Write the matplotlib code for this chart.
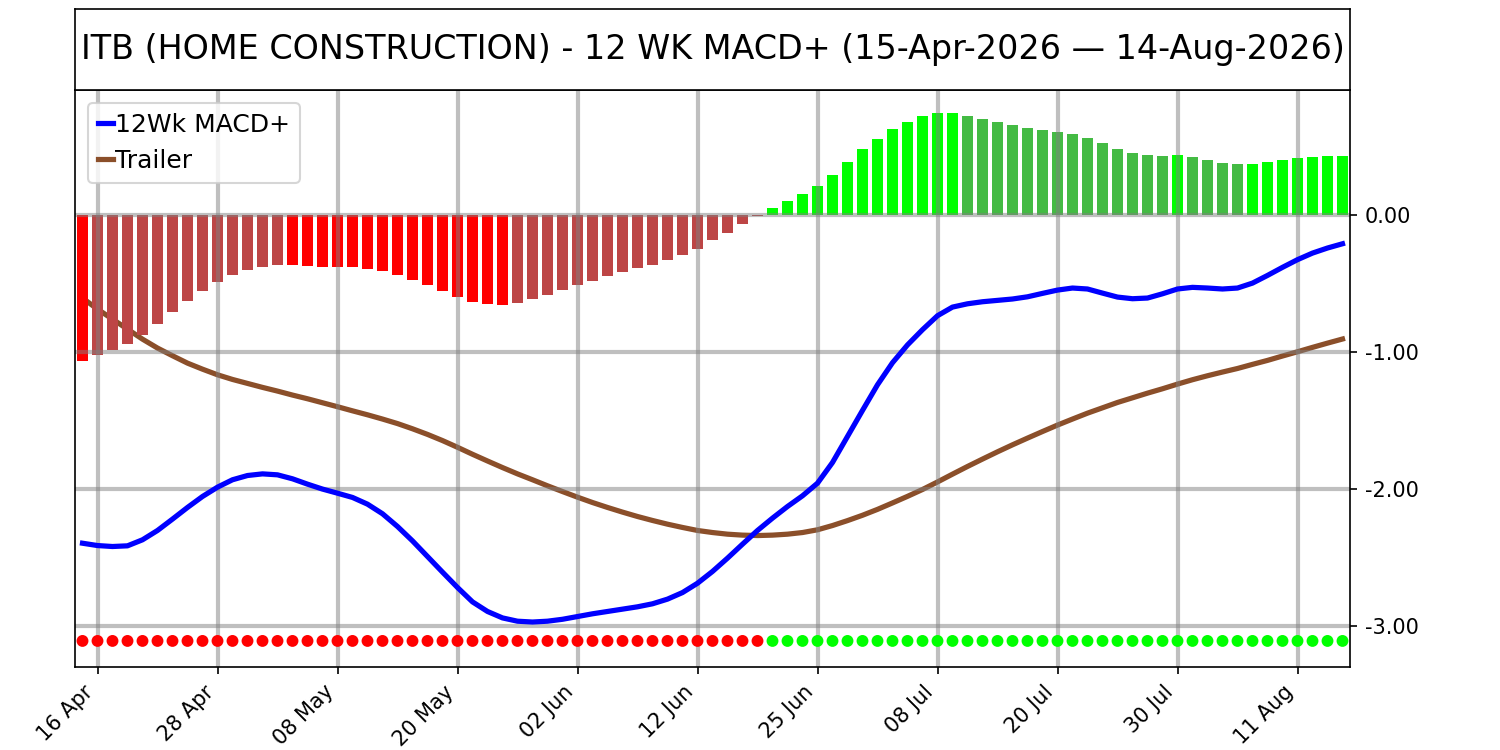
import numpy as np
import pandas as pd
import matplotlib
matplotlib.use('Agg')
import matplotlib.pyplot as plt

# Торговые дни (праздники США пропущены)
holidays = ['2026-05-25', '2026-06-19', '2026-07-03']
dates = pd.bdate_range('2026-04-15', '2026-08-14', freq='C', holidays=holidays)

# 12Wk MACD+
macd = [-2.397, -2.414, -2.421, -2.416, -2.372, -2.304, -2.221, -2.136, -2.056, -1.988,
        -1.934, -1.903, -1.891, -1.898, -1.927, -1.966, -2.002, -2.032, -2.063, -2.112,
        -2.182, -2.275, -2.380, -2.494, -2.608, -2.720, -2.825, -2.895, -2.942, -2.966,
        -2.972, -2.966, -2.952, -2.932, -2.912, -2.895, -2.878, -2.861, -2.839, -2.805,
        -2.757, -2.689, -2.603, -2.506, -2.404, -2.304, -2.214, -2.129, -2.051, -1.959,
        -1.808, -1.618, -1.428, -1.241, -1.080, -0.950, -0.839, -0.737, -0.674, -0.650,
        -0.635, -0.625, -0.615, -0.599, -0.574, -0.550, -0.535, -0.542, -0.572, -0.601,
        -0.613, -0.608, -0.577, -0.542, -0.530, -0.535, -0.542, -0.535, -0.499, -0.443,
        -0.384, -0.328, -0.280, -0.243, -0.212]

# Trailer
trailer = [-0.608, -0.689, -0.762, -0.835, -0.908, -0.973, -1.029, -1.083, -1.127, -1.168,
           -1.202, -1.231, -1.260, -1.287, -1.316, -1.343, -1.372, -1.401, -1.431, -1.460,
           -1.491, -1.524, -1.562, -1.603, -1.648, -1.697, -1.748, -1.797, -1.845, -1.891,
           -1.934, -1.978, -2.020, -2.061, -2.100, -2.136, -2.170, -2.202, -2.231, -2.258,
           -2.282, -2.304, -2.319, -2.331, -2.338, -2.341, -2.338, -2.331, -2.319, -2.299,
           -2.268, -2.232, -2.193, -2.150, -2.103, -2.055, -2.005, -1.950, -1.893, -1.837,
           -1.783, -1.730, -1.679, -1.630, -1.582, -1.535, -1.491, -1.448, -1.409, -1.370,
           -1.336, -1.302, -1.270, -1.236, -1.204, -1.175, -1.148, -1.122, -1.092, -1.063,
           -1.031, -1.000, -0.968, -0.937, -0.907]

# Гистограмма
hist = [-1.068, -1.024, -0.988, -0.946, -0.880, -0.797, -0.709, -0.628, -0.555, -0.489,
        -0.438, -0.403, -0.379, -0.364, -0.366, -0.372, -0.379, -0.380, -0.381, -0.394,
        -0.408, -0.438, -0.474, -0.511, -0.555, -0.599, -0.636, -0.655, -0.660, -0.643,
        -0.614, -0.584, -0.548, -0.511, -0.482, -0.445, -0.416, -0.386, -0.364, -0.328,
        -0.291, -0.247, -0.188, -0.130, -0.071, -0.012, 0.051, 0.103, 0.154, 0.213,
        0.293, 0.381, 0.477, 0.550, 0.623, 0.675, 0.719, 0.741, 0.745, 0.719,
        0.697, 0.675, 0.653, 0.631, 0.616, 0.601, 0.587, 0.557, 0.521, 0.477,
        0.447, 0.433, 0.432, 0.434, 0.418, 0.396, 0.374, 0.367, 0.368, 0.381,
        0.396, 0.411, 0.418, 0.425, 0.426]

title = 'ITB (HOME CONSTRUCTION) - 12 WK MACD+ (15-Apr-2026 \u2014 14-Aug-2026)'

x = np.arange(len(hist))
h = np.array(hist)

# Цвет столбцов: яркий - растет по модулю, темный - ослабевает
prev = np.concatenate([[0.0], h[:-1]])
colors = []
for v, p in zip(h, prev):
    if v < 0:
        colors.append('#ff0000' if v <= p else '#bd4545')
    else:
        colors.append('#00ff00' if v >= p else '#44bb44')
dot_colors = ['#ff0000' if v < 0 else '#00ff00' for v in h]

fig = plt.figure(figsize=(10, 5), dpi=150)
ax = fig.add_axes([0.05, 0.1107, 0.85, 0.7693])

ax.plot(x, trailer, color='#8b4f2a', linewidth=2.5, label='Trailer', zorder=1.2)
ax.bar(x, h, width=0.72, color=colors, zorder=1.3)
ax.plot(x, macd, color='#0000ff', linewidth=2.5, label='12Wk MACD+', zorder=2)
ax.scatter(x, np.full(len(x), -3.11), s=22, c=dot_colors, zorder=3)

ax.set_xlim(-0.5, len(x) - 0.5)
ax.set_ylim(-3.30, 0.91)
ax.set_yticks([0, -1, -2, -3])
ax.yaxis.set_major_formatter(matplotlib.ticker.FormatStrFormatter('%.2f'))
ax.yaxis.tick_right()

ticks = list(range(1, len(x), 8))
ax.set_xticks(ticks)
ax.set_xticklabels([dates[i].strftime('%d %b') for i in ticks], rotation=45, ha='right')

ax.grid(True, color='gray', alpha=0.5, linewidth=2)

handles, labels = ax.get_legend_handles_labels()
ax.legend([handles[1], handles[0]], [labels[1], labels[0]], loc='upper left',
          fontsize=12, handlelength=0.6, handletextpad=0.1)

# Заголовок в рамке
tax = fig.add_axes([0.05, 0.88, 0.85, 0.108])
tax.set_xticks([])
tax.set_yticks([])
tax.text(0.5, 0.5, title, ha='center', va='center', fontsize=16, transform=tax.transAxes)

fig.savefig('out.png', dpi=150)
